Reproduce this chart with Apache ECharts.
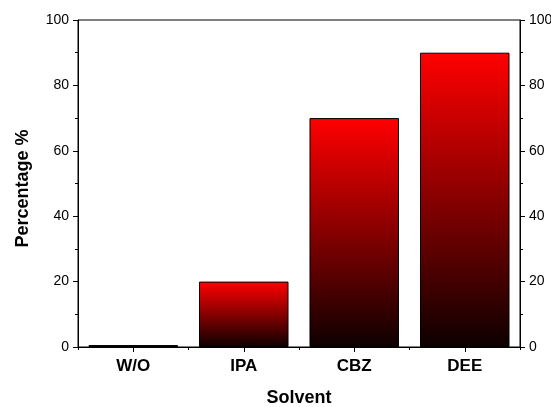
<!DOCTYPE html>
<html>
<head>
<meta charset="utf-8">
<script src="https://cdn.jsdelivr.net/npm/echarts@6/dist/echarts.min.js"></script>
<style>
html,body{margin:0;padding:0;background:#fff;overflow:hidden;}
#c{width:551px;height:407px;}
</style>
</head>
<body>
<div id="c"></div>
<script>
var categories = ["W/O", "IPA", "CBZ", "DEE"];
var percentages = [0.6, 20, 70, 90];
var yTicks = [0, 20, 40, 60, 80, 100];

var chart = echarts.init(document.getElementById('c'), null, {renderer: 'canvas'});
var FONT = '"Liberation Sans", Arial, sans-serif';
var grad = new echarts.graphic.LinearGradient(0, 0, 0, 1, [
  {offset: 0, color: '#ff0000'},
  {offset: 1, color: '#0d0000'}
]);
function yAxisDef(pos) {
  return {
    type: 'value', position: pos, min: yTicks[0], max: yTicks[yTicks.length - 1], interval: 20,
    name: pos === 'left' ? 'Percentage %' : '',
    nameLocation: 'middle', nameGap: 46,
    nameTextStyle: {fontFamily: FONT, fontWeight: 'bold', fontSize: 18, color: '#000', padding: [0, 10, 0, 0]},
    axisLine: {show: true, lineStyle: {color: '#000', width: 1}},
    axisTick: {show: true, length: 5, lineStyle: {color: '#000'}},
    minorTick: {show: true, splitNumber: 2, length: 3, lineStyle: {color: '#000'}},
    splitLine: {show: false},
    axisLabel: {fontFamily: FONT, fontSize: 14, color: '#000', margin: 9}
  };
}
chart.setOption({
  animation: false,
  backgroundColor: '#fff',
  grid: {left: 78, right: 31, top: 20, bottom: 60, containLabel: false, outerBoundsMode: 'none',
         show: true, borderColor: '#000', borderWidth: 1},
  xAxis: [{
    type: 'category', data: categories, position: 'bottom',
    name: 'Solvent', nameLocation: 'middle', nameGap: 42,
    nameTextStyle: {fontFamily: FONT, fontWeight: 'bold', fontSize: 18, color: '#000'},
    axisLine: {show: true, lineStyle: {color: '#000', width: 1}},
    axisTick: {show: true, alignWithLabel: true, length: 5, lineStyle: {color: '#000'}},
    axisLabel: {fontFamily: FONT, fontWeight: 'bold', fontSize: 17, color: '#000', margin: 11}
  }, {
    type: 'category', data: categories, position: 'bottom',
    axisLine: {show: false},
    axisTick: {show: true, alignWithLabel: false, length: 3, lineStyle: {color: '#000'}},
    axisLabel: {show: false}
  }],
  yAxis: [yAxisDef('left'), yAxisDef('right')],
  series: [{
    type: 'bar', data: percentages, xAxisIndex: 0, yAxisIndex: 0,
    barCategoryGap: '19%',
    itemStyle: {color: grad, borderColor: '#000', borderWidth: 1}
  }]
});
</script>
</body>
</html>
